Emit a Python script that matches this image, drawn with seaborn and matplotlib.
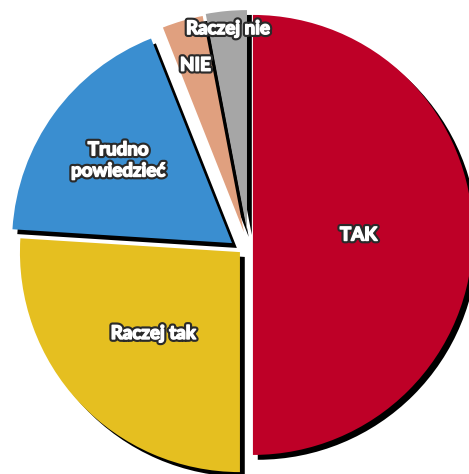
import matplotlib
matplotlib.use("Agg")

import matplotlib.pyplot as plt
import matplotlib.patheffects as pe
import numpy as np
import seaborn as sns

# dane
kategorie = ["TAK", "Raczej tak", "Trudno\npowiedzieć", "NIE", "Raczej nie"]
wartosci = [50, 26, 18, 3, 3]
kolory = ["#BE0027", "#E5BF20", "#3A8ED0", "#E0A07F", "#A6A6A6"]

# styl: przesunięcie każdego wycinka (w promieniach) i odległość etykiety
przesuniecia = [(0.036, 0.023), (-0.023, -0.055), (-0.059, -0.014),
                (-0.005, 0.036), (0.009, 0.045)]
odl_etykiet = [0.48, 0.54, 0.64, 0.79, 0.92]
cien = (0.022, -0.022)

sns.set_theme(style="white")
plt.rcParams["font.family"] = ["Lato", "DejaVu Sans"]

fig = plt.figure(figsize=(4.69, 4.74), dpi=100)
ax = fig.add_axes([0, 0, 1, 1])

udzialy = np.array(wartosci) / sum(wartosci)
starty = 90 - 360 * np.concatenate([[0], np.cumsum(udzialy)[:-1]])
paleta = sns.color_palette(kolory)

wedges = []
for u, s, kol, (dx, dy) in zip(udzialy, starty, paleta, przesuniecia):
    # cień (czarna kopia przesunięta w prawo-dół)
    ax.pie([u], normalize=False, startangle=s, counterclock=False,
           colors=["black"], center=(dx + cien[0], dy + cien[1]),
           wedgeprops=dict(linewidth=0, zorder=1))
    w, _ = ax.pie([u], normalize=False, startangle=s, counterclock=False,
                  colors=[kol], center=(dx, dy),
                  wedgeprops=dict(linewidth=0, zorder=2))
    wedges.append(w[0])

# biały, pogrubiony napis z ciemnym obrysem
obrys = [pe.Stroke(linewidth=4.2, foreground="#2a2a2a"),
         pe.Stroke(linewidth=1.1, foreground="white"), pe.Normal()]
for w, lab, d in zip(wedges, kategorie, odl_etykiet):
    kat = np.deg2rad((w.theta1 + w.theta2) / 2)
    cx, cy = w.center
    x = cx + d * w.r * np.cos(kat)
    y = cy + d * w.r * np.sin(kat)
    ax.text(x, y, lab, ha="center", va="center", color="white",
            fontsize=13.5, fontweight="bold", linespacing=1.3,
            path_effects=obrys, zorder=5)

ax.set_aspect("auto")
ax.set_xlim(-245 / 220, (469 - 245) / 220)
ax.set_ylim(-(474 - 240) / 220, 240 / 220)
ax.axis("off")

fig.savefig("out.png", dpi=100)
plt.close(fig)
